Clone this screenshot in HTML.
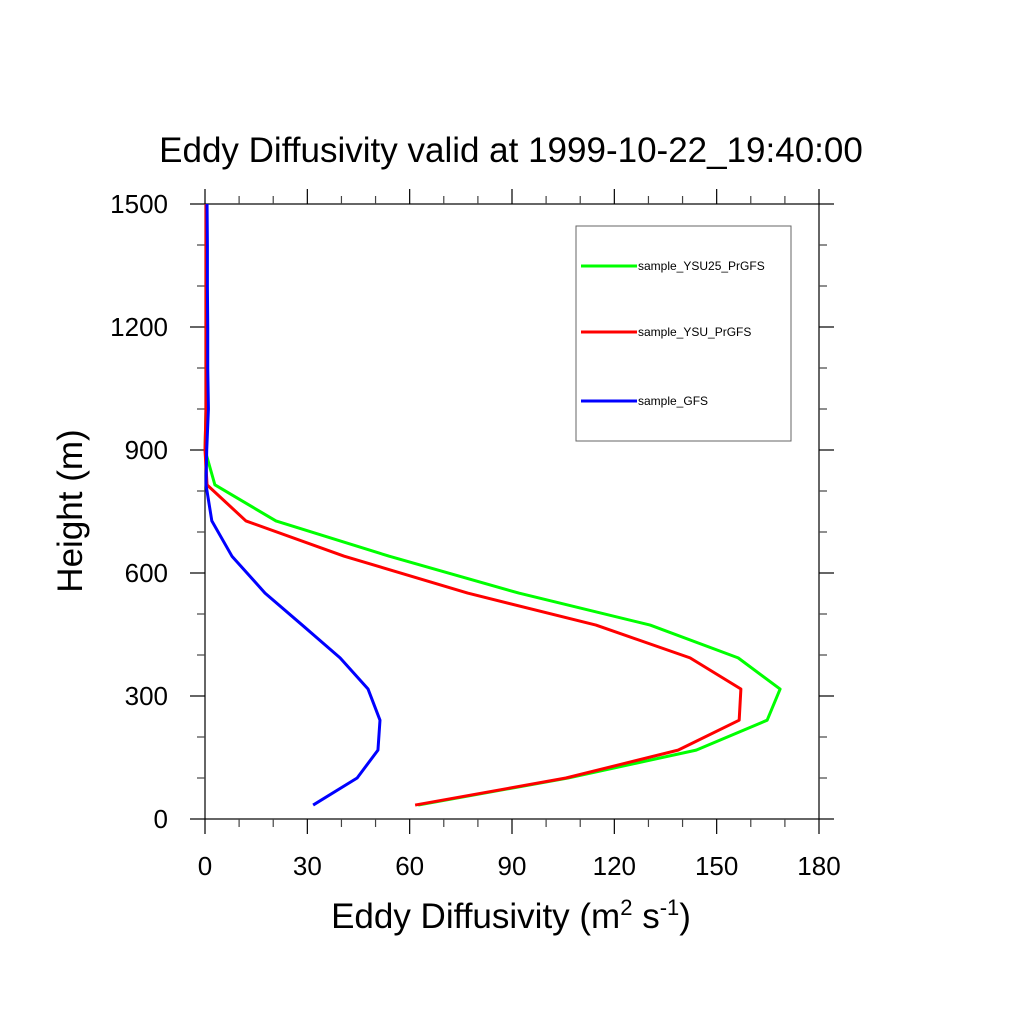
<!DOCTYPE html>
<html><head><meta charset="utf-8"><style>
html,body{margin:0;padding:0;background:#fff}
svg{display:block;font-family:"Liberation Sans",sans-serif}
</style></head><body>
<svg id="chart" width="1024" height="1024" viewBox="0 0 1024 1024">
<text x="511" y="162" font-size="35" text-anchor="middle">Eddy Diffusivity valid at 1999-10-22_19:40:00</text>
<g id="axes"></g>
<g id="series"></g>
<text x="511" y="928" font-size="35" text-anchor="middle">Eddy Diffusivity (m<tspan font-size="22" dy="-13">2</tspan><tspan dy="13"> s</tspan><tspan font-size="22" dy="-13">-1</tspan><tspan dy="13">)</tspan></text>
<text transform="translate(82,511) rotate(-90)" font-size="35" text-anchor="middle">Height (m)</text>
<g>
<rect x="576" y="226" width="215" height="215" fill="none" stroke="#666" stroke-width="1"/>
<g id="legend-items"></g>
</g>
</svg>
<script>
const heights = [34,100,168,241,317,393,473,551,641,727,815,900,1000,1100,1200,1300,1400,1500];
const greenVals = [62.5,106.4,144,164.8,168.6,156.3,130.5,92,54,20.8,2.9,0,0.3,0.3,0.3,0.3,0.3,0.3];
const redVals   = [61.6,105.8,138.7,156.6,157.1,142.2,114.6,77,40.8,12,0.6,0,0.3,0.3,0.3,0.3,0.3,0.3];
const blueVals  = [31.7,44.6,50.7,51.3,47.8,39.6,28.5,17.6,7.9,2,0.3,0.5,1,0.8,0.8,0.7,0.7,0.6];
const seriesNames = ["sample_YSU25_PrGFS","sample_YSU_PrGFS","sample_GFS"];
const xTicks = [0,30,60,90,120,150,180];
const yTicks = [0,300,600,900,1200,1500];

const X0=205,X1=819,Y0=819,Y1=204;
const xs=v=>X0+(v-0)/(180-0)*(X1-X0);
const ys=v=>Y0-(v-0)/(1500-0)*(Y0-Y1);
const NS="http://www.w3.org/2000/svg";
function mk(tag,parent){const e=document.createElementNS(NS,tag);parent.appendChild(e);return e;}
const axes=document.getElementById("axes");
const frame=mk("rect",axes);


frame.setAttribute("x",X0);frame.setAttribute("y",Y1);frame.setAttribute("width",X1-X0);frame.setAttribute("height",Y0-Y1);
frame.setAttribute("fill","none");frame.setAttribute("stroke","#000");frame.setAttribute("stroke-width","1.2");
function tick(x1,y1,x2,y2,minor){const l=mk("line",axes);


l.setAttribute("x1",x1);l.setAttribute("y1",y1);l.setAttribute("x2",x2);l.setAttribute("y2",y2);l.setAttribute("stroke",minor?"#444":"#000");l.setAttribute("stroke-width","1.2");}
for(let v=0;v<=180;v+=10){const x=xs(v);const mi=v%30!==0;const L=mi?8:15;tick(x,Y0,x,Y0+L,mi);tick(x,Y1,x,Y1-L,mi);}
for(let v=0;v<=1500;v+=100){const y=ys(v);const mi=v%300!==0;const L=mi?8:15;tick(X0,y,X0-L,y,mi);tick(X1,y,X1+L,y,mi);}
xTicks.forEach(v=>{const t=mk("text",axes);


t.setAttribute("x",xs(v));t.setAttribute("y",875);t.setAttribute("font-size","26");t.setAttribute("text-anchor","middle");t.textContent=v;});
yTicks.forEach(v=>{const t=mk("text",axes);


t.setAttribute("x",168);t.setAttribute("y",ys(v)+9);t.setAttribute("font-size","26");t.setAttribute("text-anchor","end");t.textContent=v;});
const colors=["#00ff00","#ff0000","#0000ff"];
const vals=[greenVals,redVals,blueVals];
const sg=document.getElementById("series");
vals.forEach((arr,i)=>{const p=mk("polyline",sg);


p.setAttribute("points",arr.map((v,j)=>xs(v)+","+ys(heights[j])).join(" "));
p.setAttribute("fill","none");p.setAttribute("stroke",colors[i]);p.setAttribute("stroke-width","3");p.setAttribute("stroke-linejoin","round");});
const lg=document.getElementById("legend-items");
const ly=[266,332,401];
seriesNames.forEach((n,i)=>{const l=mk("line",lg);


l.setAttribute("x1",581);l.setAttribute("x2",637);l.setAttribute("y1",ly[i]);l.setAttribute("y2",ly[i]);l.setAttribute("stroke",colors[i]);l.setAttribute("stroke-width","3");
const t=mk("text",lg);


t.setAttribute("x",638);t.setAttribute("y",ly[i]+4);t.setAttribute("font-size","12");t.textContent=n;});
</script>
</body></html>
